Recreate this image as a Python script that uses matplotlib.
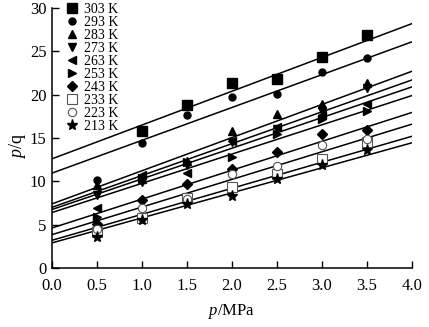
#!/usr/bin/env python3
"""p/q vs p for ten temperatures, points plus fitted straight lines."""

import matplotlib
matplotlib.use("Agg")
import matplotlib.pyplot as plt
import numpy as np

plt.rcParams["font.family"] = ["Liberation Serif", "DejaVu Serif"]
plt.rcParams["mathtext.fontset"] = "custom"
plt.rcParams["mathtext.it"] = "Liberation Serif:italic"
plt.rcParams["mathtext.rm"] = "Liberation Serif"

pressure = [0.5, 1.0, 1.5, 2.0, 2.5, 3.0, 3.5]
labels = ["303 K", "293 K", "283 K", "273 K", "263 K",
          "253 K", "243 K", "233 K", "223 K", "213 K"]

# p/q (nan = no visible point)
nan = np.nan
pq_303 = [nan, 15.8, 18.8, 21.3, 21.8, 24.4, 26.9]
pq_293 = [10.2, 14.4, 17.6, 19.7, 20.1, 22.6, 24.2]
pq_283 = [9.6, 10.3, 12.3, 15.8, 17.8, 18.9, 21.4]
pq_273 = [8.4, 9.9, 11.9, 14.5, 16.0, 18.1, 20.8]
pq_263 = [6.9, 10.7, 11.0, 14.6, 16.3, 17.6, 18.9]
pq_253 = [5.9, 10.4, 12.2, 12.8, 15.5, 17.2, 18.1]
pq_243 = [5.1, 7.8, 9.7, 11.4, 13.4, 15.5, 15.9]
pq_233 = [4.1, 5.8, 8.1, 9.3, 10.9, 12.6, 14.5]
pq_223 = [4.5, 6.9, 8.0, 10.8, 11.8, 14.2, 14.9]
pq_213 = [3.6, 5.5, 7.4, 8.3, 10.3, 11.9, 13.6]
series = [pq_303, pq_293, pq_283, pq_273, pq_263,
          pq_253, pq_243, pq_233, pq_223, pq_213]

# fitted lines, value at p = 0 and at p = 4.0
line_x = [0.0, 4.0]
line_start = [12.6, 10.95, 7.4, 7.0, 6.75, 6.4, 4.62, 3.2, 3.85, 2.9]
line_end = [28.2, 26.1, 22.7, 21.7, 20.9, 19.9, 17.95, 15.2, 16.6, 14.45]

MARKERS = ["s", "o", "^", "v", "<", ">", "D", "s", "o", "*"]
SIZES = [7, 5, 6, 6, 6, 6, 5.5, 7, 6, 8]
OPEN = [False] * 7 + [True, True, False]

fig = plt.figure(figsize=(4.29, 3.27), dpi=100)
ax = fig.add_axes([0.1212, 0.1804, 0.839, 0.795])

for start, end in zip(line_start, line_end):
    ax.plot(line_x, [start, end], color="black", lw=1.1, zorder=2)

for vals, lab, m, ms, op in zip(series, labels, MARKERS, SIZES, OPEN):
    if op:
        ax.plot(pressure, vals, ls="none", marker=m, ms=ms, mfc="white",
                mec="#555555", mew=0.8, label=lab, zorder=3)
    else:
        ax.plot(pressure, vals, ls="none", marker=m, ms=ms, color="black",
                label=lab, zorder=3)

ax.set_xlim(0, 4.0)
ax.set_ylim(0, 30)
ax.set_xticks(np.arange(0, 4.01, 0.5))
ax.set_xticklabels([f"{v:.1f}" for v in np.arange(0, 4.01, 0.5)])
ax.set_yticks(range(0, 31, 5))
ax.tick_params(direction="in", length=5, width=1, labelsize=12)
ax.tick_params(axis="x", pad=7)
ax.tick_params(axis="y", pad=4)
for side in ("top", "right"):
    ax.spines[side].set_visible(False)
for side in ("left", "bottom"):
    ax.spines[side].set_linewidth(1.1)

ax.set_xlabel(r"$\mathit{p}\mathrm{/MPa}$", fontsize=12, labelpad=6)
ax.set_ylabel(r"$\mathit{p}\mathrm{/q}$", fontsize=13)
ax.yaxis.set_label_coords(-0.067, 0.47)

ax.legend(loc="upper left", bbox_to_anchor=(0.02, 1.04), frameon=False,
          fontsize=10, handlelength=1.0, handletextpad=0.4, labelspacing=0.0,
          borderaxespad=0, numpoints=1)

fig.savefig("out.png", dpi=100)
plt.close(fig)
